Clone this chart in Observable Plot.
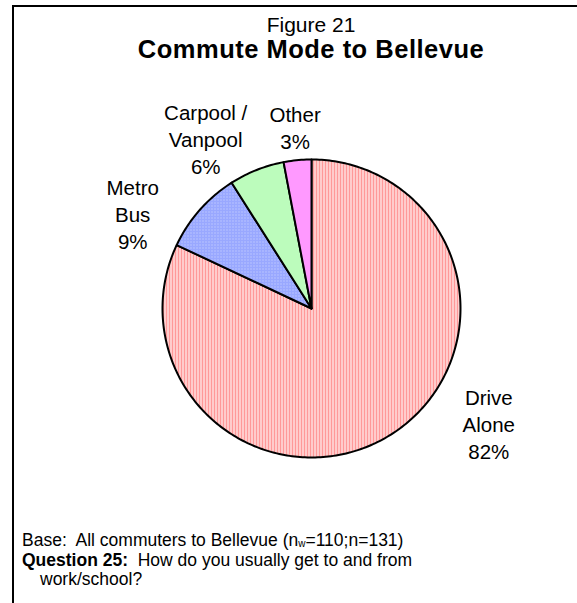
<!DOCTYPE html>
<html>
<head>
<meta charset="utf-8">
<script src="https://cdn.jsdelivr.net/npm/d3@7"></script>
<script src="https://cdn.jsdelivr.net/npm/@observablehq/plot@0.6"></script>
<style>
  html, body { margin: 0; padding: 0; background: #fff; }
  #wrap { position: relative; width: 577px; height: 603px; overflow: hidden; font-family: "Liberation Sans", Arial, sans-serif; color: #000; }
  #frame { position: absolute; left: 12px; top: 5px; width: 600px; height: 640px; border-left: 2px solid #000; border-top: 2px solid #000; }
  #title { position: absolute; left: 27px; width: 568px; top: 13px; text-align: center; }
  #title .t1 { font-size: 21px; line-height: 24px; }
  #title .t2 { font-size: 25.5px; line-height: 25px; font-weight: bold; letter-spacing: 0.5px; }
  #chart { position: absolute; left: 0; top: 0; }
  #foot { position: absolute; left: 22px; top: 531px; font-size: 17.5px; line-height: 19.5px; }
  #foot .ind { padding-left: 18px; }
  #foot sub { font-size: 10px; line-height: 0; vertical-align: -1px; }
</style>
</head>
<body>
<div id="wrap">
  <div id="frame"></div>
  <div id="chart"></div>
  <div id="title"><div class="t1">Figure 21</div><div class="t2">Commute Mode to Bellevue</div></div>
  <div id="foot">Base:&nbsp; All commuters to Bellevue (n<sub>w</sub>=110;n=131)<br><b>Question 25:</b>&nbsp; How do you usually get to and from<br><span class="ind">work/school?</span></div>
</div>
<script>
// ---- data ----
const categories = ["Drive Alone", "Metro Bus", "Carpool / Vanpool", "Other"];
const labelLines = ["Drive\nAlone", "Metro\nBus", "Carpool /\nVanpool", "Other"];
const shares = [82, 9, 6, 3];

// ---- styles / layout (not data) ----
const patterns = ["url(#pDrive)", "url(#pMetro)", "url(#pCarpool)", "url(#pOther)"];
// label position in pie-radius units relative to the pie centre (x right, y up)
const labelPos = [[1.19, -0.77], [-1.20, 0.64], [-0.71, 1.14], [-0.11, 1.22]];

const W = 577, H = 603, cx = 311, cy = 308, R = 149;

const pie = d3.pie().sort(null).value(d => d.v)(
  categories.map((c, i) => ({name: c, v: shares[i], pat: patterns[i]}))
);

// slice outlines (centre -> arc -> centre), in pie-radius units
const slicePts = [];
pie.forEach(s => {
  const steps = Math.max(2, Math.ceil((s.endAngle - s.startAngle) / (Math.PI / 180)));
  slicePts.push({name: s.data.name, pat: s.data.pat, x: 0, y: 0});
  for (let k = 0; k <= steps; k++) {
    const a = s.startAngle + (s.endAngle - s.startAngle) * k / steps;
    slicePts.push({name: s.data.name, pat: s.data.pat, x: Math.sin(a), y: Math.cos(a)});
  }
  slicePts.push({name: s.data.name, pat: s.data.pat, x: 0, y: 0});
});

const labels = categories.map((c, i) => ({
  text: `${labelLines[i]}\n${shares[i]}%`,
  x: labelPos[i][0], y: labelPos[i][1]
}));

const plot = Plot.plot({
  width: W, height: H,
  margin: 0,
  x: {domain: [-cx / R, (W - cx) / R], axis: null},
  y: {domain: [-(H - cy) / R, cy / R], axis: null},
  color: {type: "identity"},
  style: {background: "transparent", fontFamily: "'Liberation Sans', Arial, sans-serif"},
  marks: [
    Plot.line(slicePts, {x: "x", y: "y", z: "name", fill: "pat", stroke: "#000", strokeWidth: 2, strokeLinejoin: "round", curve: "linear"}),
    Plot.text(labels, {x: "x", y: "y", text: "text", fontSize: 20.5, lineHeight: 1.32, fill: "#000", textAnchor: "middle"})
  ]
});

const ns = "http://www.w3.org/2000/svg";
const defs = document.createElementNS(ns, "defs");
defs.innerHTML = `
  <pattern id="pDrive" width="3" height="4" patternUnits="userSpaceOnUse">
    <rect width="3" height="4" fill="#ff9999"/><rect x="2" width="1" height="4" fill="#ffffff"/>
  </pattern>
  <pattern id="pMetro" width="3" height="3" patternUnits="userSpaceOnUse">
    <rect width="3" height="3" fill="#99a8ff"/><rect x="1" y="1" width="1" height="1" fill="#d6dcff"/>
  </pattern>
  <pattern id="pCarpool" width="2" height="2" patternUnits="userSpaceOnUse">
    <rect width="2" height="2" fill="#b3ffb3"/><rect width="1" height="1" fill="#ffffff"/><rect x="1" y="1" width="1" height="1" fill="#8cf28c"/>
  </pattern>
  <pattern id="pOther" width="2" height="2" patternUnits="userSpaceOnUse">
    <rect width="2" height="2" fill="#ffffff"/><rect width="1" height="1" fill="#ff33ff"/><rect x="1" y="1" width="1" height="1" fill="#ff33ff"/>
  </pattern>`;
plot.insertBefore(defs, plot.firstChild);
document.getElementById("chart").appendChild(plot);
</script>
</body>
</html>
